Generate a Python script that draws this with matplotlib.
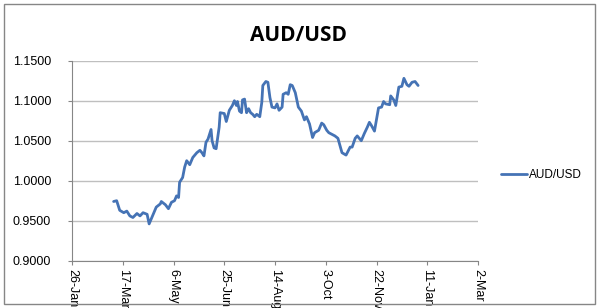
"""
AUD/USD line chart (Excel-style)
"""
import matplotlib
matplotlib.use('Agg')
import matplotlib.pyplot as plt
import matplotlib.dates as mdates
from matplotlib.ticker import FuncFormatter, MultipleLocator
from matplotlib.patches import Rectangle
import pandas as pd

# data: days after 26-Jan-2010, rate
start_date = '2010-01-26'
end_date = '2011-03-02'
days = [41, 44, 47, 51, 54, 57, 60, 64, 67, 70, 74, 76, 80, 83, 87, 88, 92, 95,
        98, 101, 103, 105, 106, 109, 111, 113, 116, 119, 123, 126, 128, 130,
        132, 134, 137, 138, 140, 142, 145, 146, 150, 152, 155, 158, 160, 162,
        163, 165, 167, 168, 170, 172, 174, 176, 178, 180, 182, 185, 187, 188,
        191, 193, 195, 197, 200, 202, 204, 207, 208, 211, 213, 215, 217, 220,
        223, 226, 229, 231, 234, 237, 239, 243, 246, 248, 251, 253, 256, 259,
        262, 266, 270, 274, 276, 279, 281, 285, 288, 291, 293, 295, 298, 302,
        305, 307, 309, 313, 314, 317, 319, 322, 325, 327, 330, 332, 335, 338,
        341]
rates = [0.974, 0.975, 0.963, 0.960, 0.962, 0.956, 0.954, 0.959, 0.956, 0.960,
         0.958, 0.946, 0.958, 0.967, 0.971, 0.974, 0.970, 0.965, 0.973, 0.975,
         0.981, 0.979, 0.998, 1.004, 1.017, 1.025, 1.020, 1.029, 1.035, 1.038,
         1.035, 1.031, 1.048, 1.052, 1.064, 1.050, 1.041, 1.040, 1.067, 1.085,
         1.084, 1.074, 1.088, 1.094, 1.100, 1.094, 1.099, 1.087, 1.085, 1.101,
         1.102, 1.085, 1.090, 1.085, 1.083, 1.080, 1.083, 1.080, 1.098, 1.119,
         1.124, 1.123, 1.104, 1.092, 1.091, 1.096, 1.088, 1.092, 1.108, 1.110,
         1.108, 1.120, 1.119, 1.110, 1.092, 1.087, 1.076, 1.080, 1.071, 1.054,
         1.060, 1.063, 1.072, 1.070, 1.063, 1.060, 1.058, 1.056, 1.053, 1.035,
         1.032, 1.042, 1.042, 1.053, 1.056, 1.050, 1.059, 1.067, 1.073, 1.069,
         1.062, 1.091, 1.092, 1.099, 1.096, 1.095, 1.106, 1.101, 1.094, 1.117,
         1.118, 1.128, 1.120, 1.118, 1.123, 1.124, 1.119]
series_name = 'AUD/USD'

dates = pd.Timestamp(start_date) + pd.to_timedelta(days, unit='D')

fig = plt.figure(figsize=(6.02, 3.08), dpi=100)
ax = fig.add_axes([72 / 602, 1 - 260.7 / 308, 406 / 602, 200 / 308])

line_color = '#4573B5'
grid_color = '#BFBFBF'

ax.plot(dates, rates, color=line_color, linewidth=2.0, label=series_name,
        solid_joinstyle='round', solid_capstyle='round')

# axes
ax.set_ylim(0.9, 1.15)
ax.yaxis.set_major_locator(MultipleLocator(0.05))
ax.yaxis.set_major_formatter(FuncFormatter(lambda v, p: f'{v:.4f}'))
ax.set_xlim(pd.Timestamp(start_date), pd.Timestamp(end_date))
ax.set_xticks(pd.date_range(start_date, end_date, freq='50D'))
ax.xaxis.set_major_formatter(FuncFormatter(
    lambda v, p: f"{mdates.num2date(v).day}-{mdates.num2date(v).strftime('%b')}"))

ax.grid(axis='y', color=grid_color, linewidth=1.0)
ax.set_axisbelow(True)
for side in ['top', 'right']:
    ax.spines[side].set_visible(False)
for side in ['left', 'bottom']:
    ax.spines[side].set_color('#868686')
    ax.spines[side].set_linewidth(0.8)
ax.tick_params(axis='both', colors='#868686', length=3, width=0.8,
               labelsize=9, labelcolor='black')
ax.tick_params(axis='y', pad=12)
ax.tick_params(axis='x', labelrotation=-90, pad=3)
for lbl in ax.get_xticklabels() + ax.get_yticklabels():
    lbl.set_family('Liberation Sans')
for lbl in ax.get_xticklabels():
    lbl.set_va('top')
    lbl.set_ha('center')

ax.set_title(series_name, fontsize=15, fontweight='bold', family='Open Sans',
             x=(298 - 72) / 406, y=1.0, pad=14)

fig.legend(loc='center left', bbox_to_anchor=(490 / 602, 1 - 175 / 308),
           frameon=False, handlelength=2.2, handletextpad=0.2,
           prop={'family': 'Liberation Sans', 'size': 8.5})

# outer chart border
fig.patches.append(Rectangle((4 / 602, 4 / 308), 591 / 602, 300 / 308,
                             transform=fig.transFigure, fill=False,
                             edgecolor='#868686', linewidth=1.0))

plt.savefig('out.png', dpi=100)
plt.close()
